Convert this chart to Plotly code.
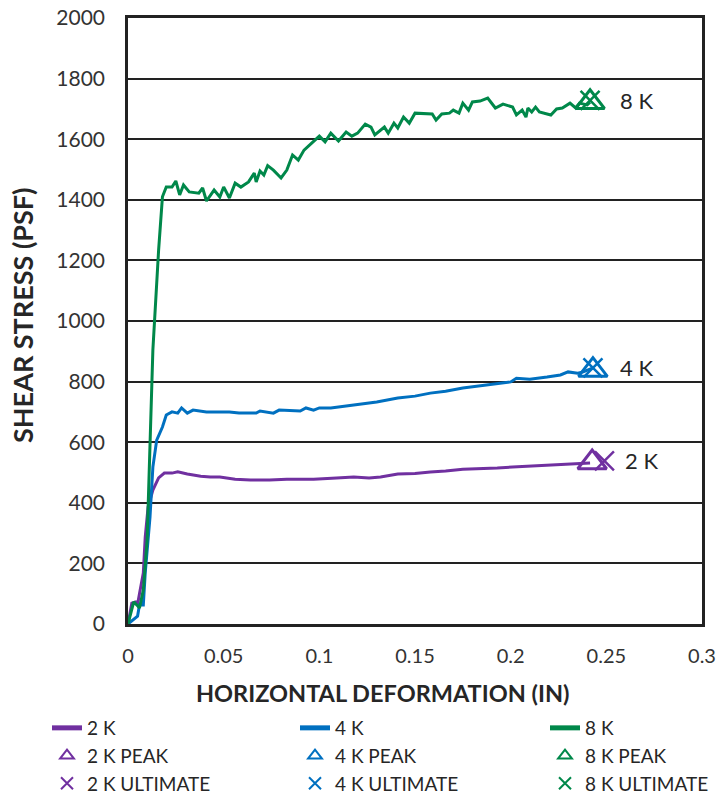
import plotly.graph_objects as go

# ---- data ----
x_2k = [0, 0.002, 0.004, 0.005, 0.006, 0.008, 0.009, 0.0105, 0.013, 0.016, 0.019, 0.023, 0.026,
        0.031, 0.038, 0.043, 0.048, 0.056, 0.064, 0.074, 0.083, 0.097, 0.109, 0.118, 0.126,
        0.132, 0.141, 0.150, 0.158, 0.166, 0.175, 0.184, 0.193, 0.201, 0.210, 0.219, 0.227, 0.235, 0.2415]
y_2k = [0, 69, 73, 65, 100, 168, 287, 386, 442, 482, 498, 498, 502,
        495, 488, 485, 485, 478, 475, 475, 478, 478, 482, 485, 482,
        485, 495, 497, 502, 505, 511, 512, 515, 518, 521, 524, 528, 529, 531]

x_4k = [0, 0.005, 0.006, 0.008, 0.009, 0.0115, 0.013, 0.015, 0.018, 0.020, 0.023, 0.026, 0.028,
        0.031, 0.034, 0.041, 0.048, 0.053, 0.058, 0.067, 0.069, 0.076, 0.079, 0.090, 0.093,
        0.097, 0.100, 0.106, 0.112, 0.118, 0.123, 0.130, 0.141, 0.150, 0.158, 0.166, 0.175,
        0.184, 0.193, 0.200, 0.203, 0.210, 0.219, 0.226, 0.230, 0.235, 0.238, 0.243]
y_4k = [0, 26, 63, 63, 168, 353, 518, 607, 650, 690, 700, 696, 713,
        696, 706, 700, 700, 700, 696, 696, 703, 696, 706, 703, 713,
        706, 713, 713, 718, 723, 729, 733, 746, 752, 762, 768, 779,
        786, 795, 799, 811, 808, 815, 822, 832, 828, 832, 845]

x_8k = [0, 0.003, 0.005, 0.006, 0.008, 0.010, 0.013, 0.016, 0.018, 0.020, 0.023, 0.025, 0.027,
        0.029, 0.032, 0.037, 0.039, 0.041, 0.045, 0.048, 0.050, 0.053, 0.056, 0.059, 0.063,
        0.066, 0.067, 0.069, 0.071, 0.073, 0.076, 0.080, 0.083, 0.086, 0.089, 0.092, 0.096,
        0.100, 0.103, 0.106, 0.110, 0.114, 0.117, 0.120, 0.124, 0.127, 0.129, 0.132, 0.134,
        0.136, 0.139, 0.141, 0.144, 0.147, 0.150, 0.159, 0.161, 0.164, 0.168, 0.170, 0.173,
        0.175, 0.178, 0.180, 0.184, 0.188, 0.192, 0.196, 0.201, 0.203, 0.206, 0.208, 0.209,
        0.211, 0.213, 0.215, 0.221, 0.224, 0.227, 0.231, 0.234, 0.236, 0.240, 0.2415]
y_8k = [0, 73, 60, 53, 112, 277, 904, 1234, 1410, 1442, 1442, 1462, 1416,
        1449, 1426, 1422, 1439, 1396, 1432, 1409, 1442, 1406, 1455, 1442, 1459,
        1488, 1459, 1495, 1482, 1513, 1498, 1472, 1498, 1548, 1531, 1564, 1587,
        1610, 1591, 1620, 1594, 1624, 1610, 1620, 1650, 1640, 1614, 1630, 1640,
        1620, 1653, 1637, 1673, 1653, 1686, 1683, 1663, 1683, 1686, 1696, 1686,
        1719, 1696, 1723, 1726, 1736, 1703, 1716, 1706, 1680, 1696, 1673, 1703,
        1690, 1706, 1690, 1680, 1700, 1703, 1719, 1703, 1719, 1713, 1722]

series_names = ["2 K", "4 K", "8 K"]
series_colors = ["#7030A0", "#0070C0", "#00884A"]
peak_x = [0.2426, 0.243, 0.2415]
peak_y = [533, 838, 1722]
ult_x = [0.249, 0.243, 0.2415]
ult_y = [538, 845, 1728]
x_ticks = [0, 0.05, 0.1, 0.15, 0.2, 0.25, 0.3]
y_ticks = list(range(0, 2001, 200))

FONT = "Lato"
TXT = "#262626"

# plot area in page pixels: x 128..702, y 18..624
def px(p):
    return (p - 128) / 574

def py(p):
    return (624 - p) / 606

legend_ids = ["legend", "legend2", "legend3"]

fig = go.Figure()
curves = [(x_2k, y_2k), (x_4k, y_4k), (x_8k, y_8k)]
for (xs, ys), name, col, lg in zip(curves, series_names, series_colors, legend_ids):
    fig.add_trace(go.Scatter(x=xs, y=ys, mode="lines", name=name, legend=lg,
                             line=dict(color=col, width=3)))
for i, name in enumerate(series_names):
    fig.add_trace(go.Scatter(x=[peak_x[i]], y=[peak_y[i]], mode="markers", name=name + " PEAK",
                             legend=legend_ids[i],
                             marker=dict(symbol="triangle-up-open", size=25, color=series_colors[i],
                                         line=dict(color=series_colors[i], width=3))))
for i, name in enumerate(series_names):
    fig.add_trace(go.Scatter(x=[ult_x[i]], y=[ult_y[i]], mode="markers", name=name + " ULTIMATE",
                             legend=legend_ids[i],
                             marker=dict(symbol="x-thin-open", size=19, color=series_colors[i],
                                         line=dict(color=series_colors[i], width=2.5))))

annotations = []
label_shift = [19, 25, 28]
for i, name in enumerate(series_names):
    annotations.append(dict(x=ult_x[i], y=ult_y[i], xref="x", yref="y", text=name,
                            showarrow=False, xanchor="left", yanchor="middle",
                            xshift=label_shift[i],
                            font=dict(family=FONT, size=22, color=TXT)))
annotations.append(dict(x=px(382), y=py(693), xref="paper", yref="paper",
                        text="<b>HORIZONTAL DEFORMATION (IN)</b>", showarrow=False,
                        xanchor="center", yanchor="middle",
                        font=dict(family=FONT, size=23.5, color=TXT)))
annotations.append(dict(x=px(22), y=py(315), xref="paper", yref="paper",
                        text="<b>SHEAR STRESS (PSF)</b>", showarrow=False, textangle=-90,
                        xanchor="center", yanchor="middle",
                        font=dict(family=FONT, size=27, color=TXT)))

legend_style = dict(orientation="v", yanchor="top", xanchor="left",
                    itemsizing="constant", traceorder="normal",
                    font=dict(family=FONT, size=19, color=TXT),
                    bgcolor="rgba(0,0,0,0)", tracegroupgap=0)
legend_x_px = [47, 295, 545]
legend_top_px = 709

fig.update_layout(
    width=717, height=795,
    margin=dict(l=128, r=15, t=18, b=171, autoexpand=False),
    paper_bgcolor="white", plot_bgcolor="white",
    font=dict(family=FONT, color=TXT),
    showlegend=True,
    legend=dict(x=px(legend_x_px[0]), y=py(legend_top_px), **legend_style),
    legend2=dict(x=px(legend_x_px[1]), y=py(legend_top_px), **legend_style),
    legend3=dict(x=px(legend_x_px[2]), y=py(legend_top_px), **legend_style),
    annotations=annotations,
)
fig.update_xaxes(range=[0, 0.3], tickvals=x_ticks, ticktext=[f"{v:g}" for v in x_ticks],
                 showgrid=False, zeroline=False,
                 showline=True, linecolor="#222", linewidth=2.5, mirror=True,
                 ticks="", ticklabelstandoff=12, ticklabeloverflow="allow",
                 tickfont=dict(family=FONT, size=20, color="#333"))
fig.update_yaxes(range=[0, 2000], tickvals=y_ticks, ticktext=[str(v) for v in y_ticks],
                 showgrid=True, gridcolor="#222", gridwidth=1.5, zeroline=False,
                 showline=True, linecolor="#222", linewidth=2.5, mirror=True,
                 ticks="", ticklabelstandoff=16, ticklabeloverflow="allow",
                 tickfont=dict(family=FONT, size=21, color="#333"))

fig.write_html("out.html", config={"displayModeBar": False},
               post_script="document.body.style.margin='0';document.body.style.overflow='hidden';")
